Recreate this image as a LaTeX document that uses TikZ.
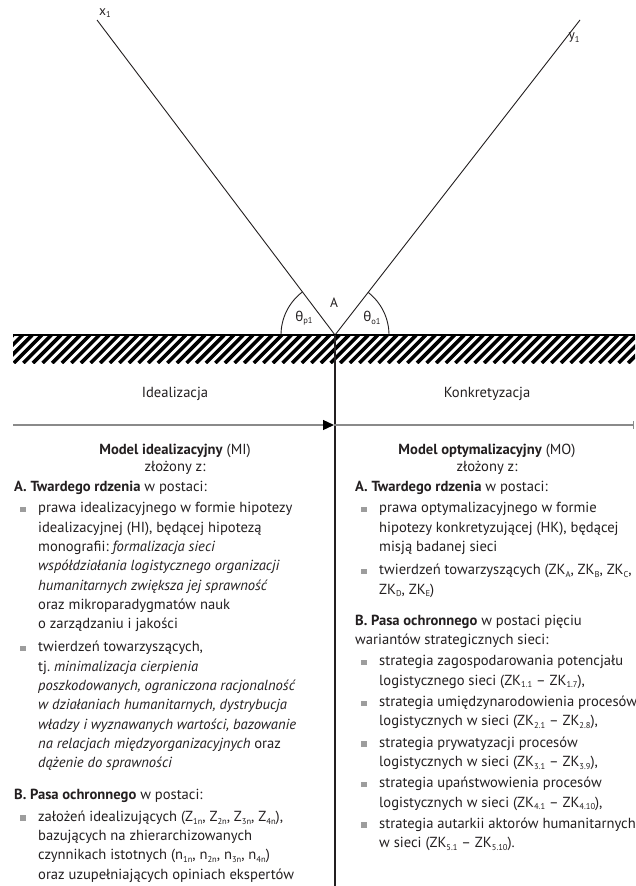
\documentclass[tikz,border=0pt]{standalone}
\usepackage{fontspec}
\setmainfont{PT Sans}
\newfontfamily\grk{Noto Sans}
\usetikzlibrary{arrows.meta,calc}
\definecolor{ink}{HTML}{231F20}
\definecolor{bulletgray}{HTML}{9D9D9D}
\definecolor{arrowgray}{HTML}{8A8A8A}
\newcommand{\bul}{\makebox[24pt][l]{\hspace{6pt}\textcolor{bulletgray}{\rule[0.5pt]{5.5pt}{5.5pt}}}}
\newcommand{\ind}{\hspace*{24pt}}
\newcommand{\sub}[1]{\raisebox{-0.18em}{\fontsize{8.5}{9}\selectfont #1}}
\frenchspacing
\tikzset{
  ray/.style={draw=ink, line width=0.9pt},
  lbl/.style={inner sep=0pt, text=ink, font=\fontsize{13.5}{15}\selectfont},
  coltext/.style={inner sep=0pt, anchor=north west, align=left, text=ink,
    font=\fontsize{14.6}{19.3}\selectfont},
  titletext/.style={inner sep=0pt, anchor=north, align=center, text=ink,
    font=\fontsize{14.6}{16.5}\selectfont},
  sidetext/.style={inner sep=0pt, text=ink, font=\fontsize{14.6}{17}\selectfont}
}
\begin{document}
\begin{tikzpicture}[x=1pt,y=-1pt]
\useasboundingbox (0,0) rectangle (635,886);
\fill[white] (0,0) rectangle (635,886);

% rays
\coordinate (A) at (335,335);
\coordinate (X) at (97,20);
\coordinate (Y) at (580,20);
\coordinate (B) at (335,886);
\draw[ray] (X) -- (A) -- (Y);
\node[lbl] (xlab) at (105,13) {x\sub{1}};
\node[lbl] (ylab) at (574,38) {y\sub{1}};
\draw[ray] ($(A)+(-54,0)$) arc[start angle=180, end angle=232.9, radius=54];
\draw[ray] ($(A)+(54,0)$) arc[start angle=0, end angle=-52.1, radius=54];
\node[lbl] (thp) at (304,318) {{\grk θ}\sub{p1}};
\node[lbl] (alab) at (334,303) {A};
\node[lbl] (tho) at (372,318) {{\grk θ}\sub{o1}};

% hatched ground
\begin{scope}
\clip (13,335) rectangle (635,363);
\foreach \k in {0,...,70} \draw[line width=3.6pt, black] (\k*9.6-15, 363) -- ++(28,-28);
\end{scope}
\draw[line width=2pt, black] (13,335) -- (635,335);

% vertical axis
\draw[line width=1.6pt, ink] (A) -- (B);

% horizontal arrow
\coordinate (L) at (13,425);
\coordinate (M) at (334,425);
\coordinate (R) at (634,425);
\draw[arrowgray, line width=1.3pt, -{Triangle[length=11pt, width=10pt, black]}] (L) -- (M);
\draw[arrowgray, line width=1.3pt, -{Bar[width=8pt]}] (M) -- (R);

\node[sidetext] (ideal) at (175,394) {Idealizacja};
\node[sidetext] (konk) at (487,394) {Konkretyzacja};

% left column
\node[titletext] (mi) at (175,444) {\textbf{Model idealizacyjny} (MI)\\złożony z:};
\node[coltext] (lcol) at (14,481) {%
\textbf{A. Twardego rdzenia} w postaci:\\[2pt]
\bul prawa idealizacyjnego w formie hipotezy\\
\ind idealizacyjnej (HI), będącej hipotezą\\
\ind monografii: \textit{formalizacja sieci}\\
\ind \textit{współdziałania logistycznego organizacji}\\
\ind \textit{humanitarnych zwiększa jej sprawność}\\
\ind oraz mikroparadygmatów nauk\\
\ind o zarządzaniu i jakości\\[4pt]
\bul twierdzeń towarzyszących,\\
\ind tj. \textit{minimalizacja cierpienia}\\
\ind \textit{poszkodowanych, ograniczona racjonalność}\\
\ind \textit{w działaniach humanitarnych, dystrybucja}\\
\ind \textit{władzy i wyznawanych wartości, bazowanie}\\
\ind \textit{na relacjach międzyorganizacyjnych} oraz\\
\ind \textit{dążenie do sprawności}\\[12pt]
\textbf{B. Pasa ochronnego} w postaci:\\[3pt]
\bul założeń idealizujących (Z\sub{1n}, Z\sub{2n}, Z\sub{3n}, Z\sub{4n}),\\
\ind bazujących na zhierarchizowanych\\
\ind czynnikach istotnych (n\sub{1n}, n\sub{2n}, n\sub{3n}, n\sub{4n})\\
\ind oraz uzupełniających opiniach ekspertów};

% right column
\node[titletext] (mo) at (487,444) {\textbf{Model optymalizacyjny} (MO)\\złożony z:};
\node[coltext] (rcol) at (355,481) {%
\textbf{A. Twardego rdzenia} w postaci:\\[2pt]
\bul prawa optymalizacyjnego w formie\\
\ind hipotezy konkretyzującej (HK), będącej\\
\ind misją badanej sieci\\[4pt]
\bul twierdzeń towarzyszących (ZK\sub{A}, ZK\sub{B}, ZK\sub{C},\\
\ind ZK\sub{D}, ZK\sub{E})\\[12pt]
\textbf{B. Pasa ochronnego} w postaci pięciu\\
wariantów strategicznych sieci:\\[2pt]
\bul strategia zagospodarowania potencjału\\
\ind logistycznego sieci (ZK\sub{1.1} – ZK\sub{1.7}),\\[2pt]
\bul strategia umiędzynarodowienia procesów\\
\ind logistycznych w sieci (ZK\sub{2.1} – ZK\sub{2.8}),\\[2pt]
\bul strategia prywatyzacji procesów\\
\ind logistycznych w sieci (ZK\sub{3.1} – ZK\sub{3.9}),\\[2pt]
\bul strategia upaństwowienia procesów\\
\ind logistycznych w sieci (ZK\sub{4.1} – ZK\sub{4.10}),\\[2pt]
\bul strategia autarkii aktorów \mbox{humanitarnych}\\
\ind w sieci (ZK\sub{5.1} – ZK\sub{5.10}).};
\end{tikzpicture}
\end{document}
